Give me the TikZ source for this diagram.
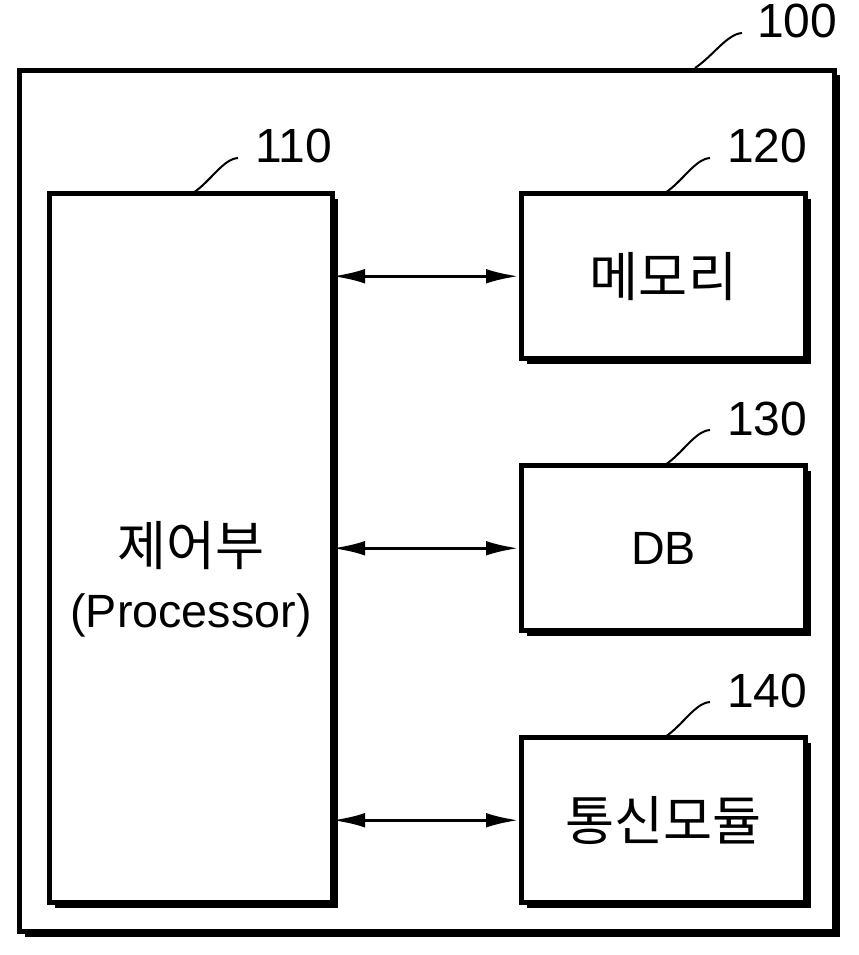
\documentclass[tikz,border=0pt]{standalone}
\usepackage{fontspec}
\setmainfont{Liberation Sans}
\newfontfamily\kr{Noto Sans CJK KR}
\newcommand\krbig{\kr\fontsize{40}{46.5}\selectfont}
\usetikzlibrary{arrows.meta,shadows}
\tikzset{
  blk/.style={draw, fill=white, line width=3.75pt,
    drop shadow={opacity=1, fill=black, shadow xshift=4.1pt, shadow yshift=-4.1pt},
    font=\fontsize{35}{46.5}\selectfont, align=center},
  lab/.style={font=\fontsize{36}{40}\selectfont, inner sep=0pt, anchor=base west},
  lead/.style={line width=1.5pt},
  arr/.style={arrows={Latex[length=24.75pt,width=11pt]-Latex[length=24.75pt,width=11pt]},
    line width=2.6pt, shorten <=-2.2pt},
  txt/.style={font=\fontsize{35}{46.5}\selectfont, align=center, inner sep=0pt}
}
\begin{document}
\begin{tikzpicture}[x=0.75pt,y=-0.75pt]
\useasboundingbox (0,0) rectangle (858,955);
% outer box
\node[blk, minimum width=611.25pt, minimum height=646.1pt] (b100) at (427,500.75) {};
% inner boxes
\node[blk, minimum width=212.25pt, minimum height=531.4pt] (b110) at (191,548.25) {};
\node[blk, minimum width=213pt, minimum height=123.4pt] (b120) at (663.5,276.25) {\krbig 메모리};
\node[blk, minimum width=213pt, minimum height=123.4pt] (b130) at (663.5,548.25) {DB};
\node[blk, minimum width=213pt, minimum height=123.4pt] (b140) at (663.5,820.25) {\krbig 통신모듈};
\node[txt] (t110) at (191,579) {{\krbig 제어부}\\(Processor)};
% arrows
\draw[arr] (b120.west -| b110.east) -- (b120.west);
\draw[arr] (b130.west -| b110.east) -- (b130.west);
\draw[arr] (b140.west -| b110.east) -- (b140.west);
% labels
\node[lab] (l100) at (757,38) {100};
\node[lab] (l110) at (255,163) {110};
\node[lab] (l120) at (727,163) {120};
\node[lab] (l130) at (727,435) {130};
\node[lab] (l140) at (727,707) {140};
\coordinate (s100) at (695,68);
\coordinate (s110) at (193,193);
\coordinate (s120) at (665,193);
\coordinate (s130) at (665,465);
\coordinate (s140) at (665,737);
\draw[lead] (s100) .. controls +(18,-12) and +(-15,1) .. ([shift={(-15,-5)}]l100.base west);
\draw[lead] (s110) .. controls +(18,-12) and +(-15,1) .. ([shift={(-17,-5)}]l110.base west);
\draw[lead] (s120) .. controls +(18,-12) and +(-15,1) .. ([shift={(-17,-5)}]l120.base west);
\draw[lead] (s130) .. controls +(18,-12) and +(-15,1) .. ([shift={(-17,-5)}]l130.base west);
\draw[lead] (s140) .. controls +(18,-12) and +(-15,1) .. ([shift={(-17,-5)}]l140.base west);
\end{tikzpicture}
\end{document}
